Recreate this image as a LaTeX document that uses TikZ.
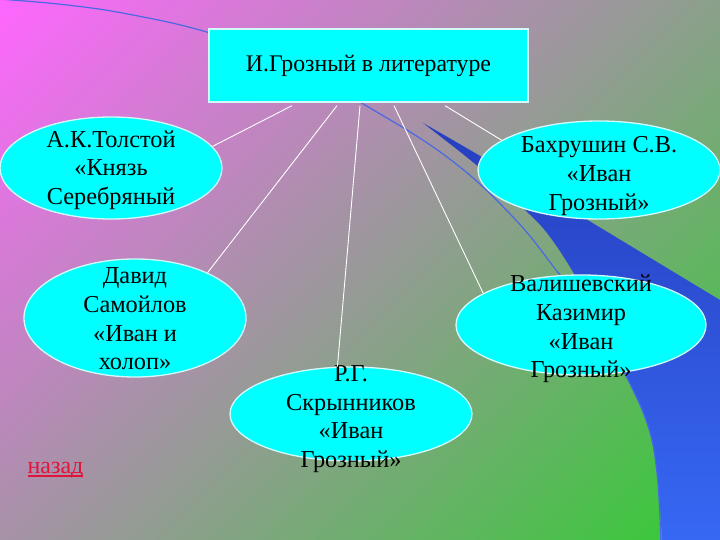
\documentclass[tikz,border=0pt]{standalone}
\usepackage{fontspec}
\setmainfont{Liberation Serif}
\usetikzlibrary{shapes.geometric,calc}
\definecolor{bgA}{RGB}{255,102,255}
\definecolor{bgB}{RGB}{51,204,51}
\definecolor{swA}{RGB}{38,62,190}
\definecolor{swB}{RGB}{55,105,245}
\definecolor{arcblue}{RGB}{72,105,225}
\definecolor{aqua}{RGB}{0,255,255}
\definecolor{nodeline}{RGB}{210,250,250}
\definecolor{backred}{RGB}{225,20,60}
\newcommand\myul[1]{\setbox0\hbox{#1}\rlap{\rule[-3.2pt]{\wd0}{1.7pt}}\box0}
\tikzset{
  titlebox/.style={rectangle, draw=nodeline, line width=1.3pt, fill=aqua, inner sep=0pt,
    font=\fontsize{23.8}{27}\selectfont, text=black},
  ell/.style={ellipse, draw=nodeline, line width=1.3pt, fill=aqua, inner sep=0pt},
  lbl/.style={align=center, font=\fontsize{24.3}{28.7}\selectfont, text=black, inner sep=0pt},
  backlbl/.style={font=\fontsize{24}{28}\selectfont, text=backred, inner sep=0pt},
  link/.style={draw=white, line width=0.9pt},
  arcline/.style={draw=arcblue, line width=1.2pt},
}
\begin{document}
\begin{tikzpicture}[x=1pt,y=-1pt]
\useasboundingbox (0,0) rectangle (720,540);
\begin{scope}
  \clip (0,0) rectangle (720,540);
  \foreach \i in {0,...,251}{
    \pgfmathsetmacro{\cc}{\i*5}
    \pgfmathsetmacro{\pp}{100-(\i+0.5)/252*100}
    \fill[bgA!\pp!bgB] (\cc+700,-700) -- (\cc-700,700) -- (\cc+6-700,700) -- (\cc+6+700,-700) -- cycle;
  }
  % blue swoosh
  \shade[top color=swA, bottom color=swB]
    (423,123) .. controls (520,178) and (620,240) .. (740,312) -- (740,550) -- (662,550)
    -- plot[smooth, tension=0.6] coordinates {(662,540) (657,473) (647,423) (627,377) (600,322) (573,272) (547,233) (523,208) (480,168) (423,123)} -- cycle;
  % thin blue arc
  \draw[arcline] plot[smooth, tension=0.7] coordinates {(-2,-1) (67,5) (133,15) (210,33) (290,62) (360,102) (447,157) (513,217) (560,275) (600,325) (623,370) (647,423) (657,473) (661,545)};
\end{scope}

\node[titlebox, minimum width=319pt, minimum height=73pt] (title) at (368.5,65.5) {И.Грозный в литературе};

\node[ell, minimum width=222pt, minimum height=102pt] (e1) at (111,168) {};
\node[ell, minimum width=242pt, minimum height=98pt] (e2) at (599,170) {};
\node[ell, minimum width=222pt, minimum height=118pt] (e3) at (135,318) {};
\node[ell, minimum width=250pt, minimum height=100pt] (e4) at (581,325) {};
\node[ell, minimum width=242pt, minimum height=94pt] (e5) at (351,414) {};

\node[lbl] (t1) at (111,170) {А.К.Толстой\\«Князь\\Серебряный};
\node[lbl] (t2) at (599,176) {Бахрушин С.В.\\«Иван\\Грозный»};
\node[lbl] (t3) at (135,319) {Давид\\Самойлов\\«Иван и\\холоп»};
\node[lbl] (t4) at (581,329) {Валишевский\\Казимир\\«Иван\\Грозный»};
\node[lbl] (t5) at (351,419) {Р.Г.\\Скрынников\\«Иван\\Грозный»};

\draw[link] ([xshift=-76.5pt,yshift=-3pt]title.south) -- (e1.12);
\draw[link] ([xshift=-31.5pt,yshift=-3pt]title.south) -- (e3.32);
\draw[link] ([xshift=-8.5pt,yshift=-3pt]title.south) -- (e5.106);
\draw[link] ([xshift=25.5pt,yshift=-3pt]title.south) -- (e4.162);
\draw[link] ([xshift=76.5pt,yshift=-3pt]title.south) -- (e2.163);

\node[backlbl] (back) at (55.5,470) {\myul{назад}};
\end{tikzpicture}
\end{document}
